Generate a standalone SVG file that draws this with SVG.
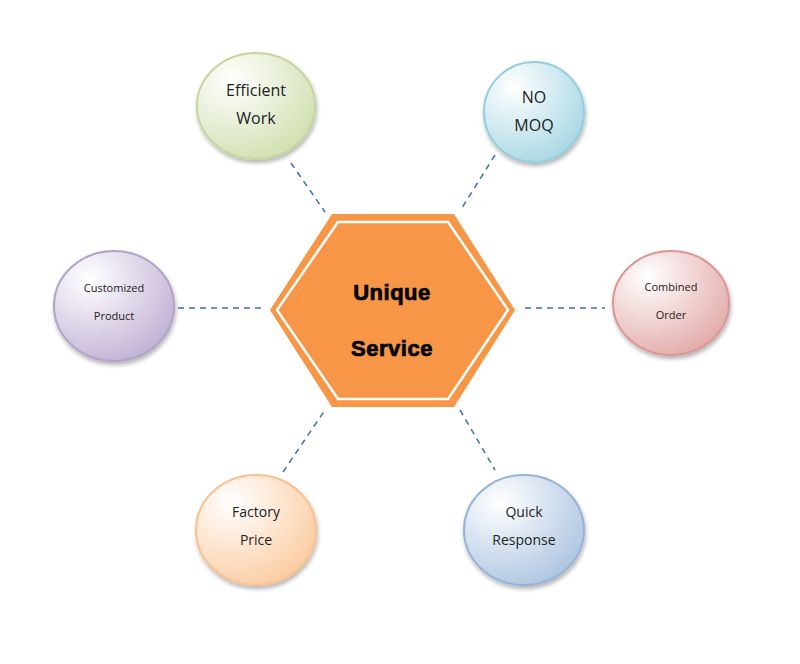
<svg xmlns="http://www.w3.org/2000/svg" width="800" height="664" viewBox="0 0 800 664">
<defs>
<radialGradient id="gG" cx="0.3" cy="0.25" r="0.85"><stop offset="0" stop-color="#ffffff"/><stop offset="1" stop-color="#cfdfad"/></radialGradient>
<radialGradient id="gA" cx="0.3" cy="0.25" r="0.85"><stop offset="0" stop-color="#ffffff"/><stop offset="1" stop-color="#a5d6e3"/></radialGradient>
<radialGradient id="gP" cx="0.3" cy="0.25" r="0.85"><stop offset="0" stop-color="#ffffff"/><stop offset="1" stop-color="#bfafd3"/></radialGradient>
<radialGradient id="gR" cx="0.3" cy="0.25" r="0.85"><stop offset="0" stop-color="#ffffff"/><stop offset="1" stop-color="#e1a8a6"/></radialGradient>
<radialGradient id="gO" cx="0.3" cy="0.25" r="0.85"><stop offset="0" stop-color="#ffffff"/><stop offset="1" stop-color="#fbca9e"/></radialGradient>
<radialGradient id="gB" cx="0.3" cy="0.25" r="0.85"><stop offset="0" stop-color="#ffffff"/><stop offset="1" stop-color="#abc3e0"/></radialGradient>
<filter id="sh" x="-20%" y="-20%" width="140%" height="150%"><feGaussianBlur in="SourceAlpha" stdDeviation="2"/><feOffset dx="1" dy="3"/><feComponentTransfer><feFuncA type="linear" slope="0.3"/></feComponentTransfer><feMerge><feMergeNode/><feMergeNode in="SourceGraphic"/></feMerge></filter>
</defs>
<style>
.lbl{font-family:"Open Sans","Liberation Sans",sans-serif;fill:#222;text-anchor:middle}
.c{stroke-width:2;filter:url(#sh)}
.dash{stroke:#3f6fb5;stroke-width:1.5;stroke-dasharray:6,5;fill:none}
.hx{font-family:"Liberation Sans",Arial,sans-serif;font-weight:bold;font-size:22px;fill:#000;stroke:#000;stroke-width:0.7;text-anchor:middle;letter-spacing:0.5px}
</style>
<rect width="800" height="664" fill="#ffffff"/>
<g id="connectors">
<line class="dash" x1="291" y1="163" x2="325" y2="212"/>
<line class="dash" x1="495" y1="155" x2="460" y2="211"/>
<line class="dash" x1="178" y1="308" x2="265" y2="308"/>
<line class="dash" x1="525" y1="308" x2="605" y2="308"/>
<line class="dash" x1="283" y1="472" x2="325" y2="410"/>
<line class="dash" x1="460" y1="410" x2="495" y2="470"/>
</g>
<g id="center">
<polygon points="332,214 454,214 515,310 454,407 332,407 270,310" fill="#f79646"/>
<polygon points="338,222 448,222 508,310 448,399 338,399 277,310" fill="none" stroke="#ffffff" stroke-width="2.5"/>
<text class="hx" x="392" y="300">Unique</text>
<text class="hx" x="392" y="356">Service</text>
</g>
<g id="efficient-work">
<ellipse class="c" cx="256" cy="106" rx="59" ry="53" fill="url(#gG)" stroke="#c3d69b"/>
<text class="lbl" x="256" y="96" font-size="16">Efficient</text>
<text class="lbl" x="256" y="124" font-size="16">Work</text>
</g>
<g id="no-moq">
<ellipse class="c" cx="534" cy="112" rx="50" ry="50" fill="url(#gA)" stroke="#93cddd"/>
<text class="lbl" x="534" y="103" font-size="16">NO</text>
<text class="lbl" x="534" y="131" font-size="16">MOQ</text>
</g>
<g id="customized-product">
<ellipse class="c" cx="114" cy="306" rx="60" ry="55" fill="url(#gP)" stroke="#b3a2c7"/>
<text class="lbl" x="114" y="292" font-size="11">Customized</text>
<text class="lbl" x="114" y="320" font-size="11">Product</text>
</g>
<g id="combined-order">
<ellipse class="c" cx="671" cy="303" rx="58" ry="52" fill="url(#gR)" stroke="#d99694"/>
<text class="lbl" x="671" y="291" font-size="11">Combined</text>
<text class="lbl" x="671" y="319" font-size="11">Order</text>
</g>
<g id="factory-price">
<ellipse class="c" cx="256" cy="530" rx="60" ry="55" fill="url(#gO)" stroke="#fac090"/>
<text class="lbl" x="256" y="517" font-size="14">Factory</text>
<text class="lbl" x="256" y="545" font-size="14">Price</text>
</g>
<g id="quick-response">
<ellipse class="c" cx="524" cy="530" rx="60" ry="55" fill="url(#gB)" stroke="#95b3d7"/>
<text class="lbl" x="524" y="517" font-size="14">Quick</text>
<text class="lbl" x="524" y="545" font-size="14">Response</text>
</g>
</svg>
